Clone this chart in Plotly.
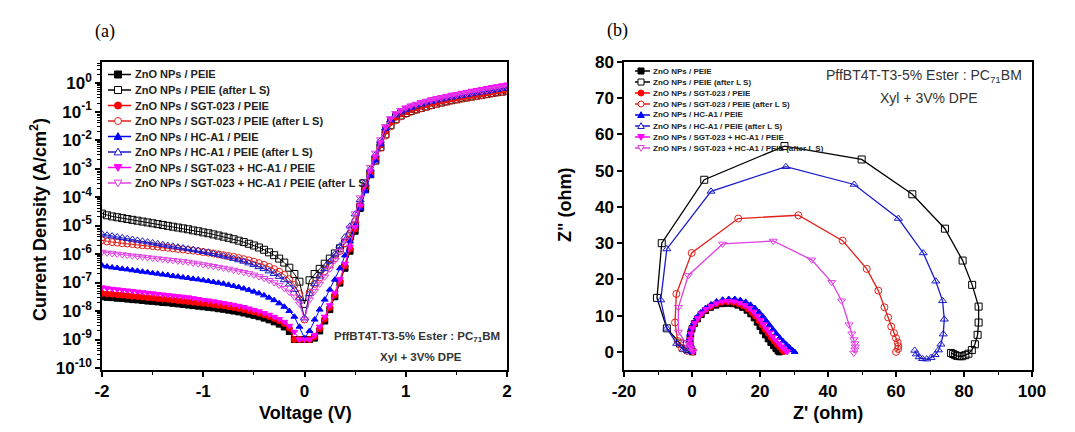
import plotly.graph_objects as go

# ---------------- Panel (a): J-V data (log10 of |J| in A/cm2) ----------------
V = [-2.00, -1.95, -1.90, -1.85, -1.80, -1.75, -1.70, -1.65, -1.60, -1.55,
     -1.50, -1.45, -1.40, -1.35, -1.30, -1.25, -1.20, -1.15, -1.10, -1.05,
     -1.00, -0.95, -0.90, -0.85, -0.80, -0.75, -0.70, -0.65, -0.60, -0.55,
     -0.50, -0.45, -0.40, -0.35, -0.30, -0.25, -0.20, -0.15, -0.10, -0.05,
     0.00, 0.05, 0.10, 0.15, 0.20, 0.25, 0.30, 0.35, 0.40, 0.45,
     0.50, 0.55, 0.60, 0.65, 0.70, 0.75, 0.80, 0.85, 0.90, 0.95,
     1.00, 1.05, 1.10, 1.15, 1.20, 1.25, 1.30, 1.35, 1.40, 1.45,
     1.50, 1.55, 1.60, 1.65, 1.70, 1.75, 1.80, 1.85, 1.90, 1.95, 2.00]

logJ_peie = [-7.50, -7.52, -7.53, -7.55, -7.56, -7.58, -7.60, -7.61, -7.63, -7.65,
             -7.66, -7.68, -7.70, -7.71, -7.73, -7.75, -7.77, -7.79, -7.81, -7.83,
             -7.85, -7.87, -7.89, -7.92, -7.94, -7.97, -8.00, -8.03, -8.07, -8.11,
             -8.15, -8.20, -8.25, -8.31, -8.38, -8.46, -8.56, -8.72, -9.00, -9.00,
             -9.00, -9.00, -8.95, -8.70, -8.35, -7.95, -7.50, -7.02, -6.50, -5.90,
             -5.20, -4.40, -3.70, -3.15, -2.65, -2.15, -1.65, -1.35, -1.17, -1.05,
             -0.97, -0.90, -0.84, -0.78, -0.73, -0.68, -0.64, -0.60, -0.56, -0.52,
             -0.49, -0.46, -0.43, -0.40, -0.37, -0.34, -0.31, -0.28, -0.25, -0.22, -0.19]
logJ_peie_ls = [-4.58, -4.64, -4.68, -4.71, -4.74, -4.77, -4.80, -4.83, -4.86, -4.89,
                -4.92, -4.95, -4.98, -5.01, -5.04, -5.07, -5.10, -5.13, -5.17, -5.20,
                -5.24, -5.27, -5.31, -5.35, -5.39, -5.43, -5.48, -5.53, -5.58, -5.64,
                -5.70, -5.77, -5.85, -5.94, -6.04, -6.16, -6.30, -6.48, -6.70, -6.97,
                -7.75, -6.92, -6.70, -6.52, -6.34, -6.16, -5.98, -5.80, -5.62, -5.38,
                -5.00, -4.35, -3.70, -3.20, -2.72, -2.25, -1.80, -1.48, -1.27, -1.14,
                -1.05, -0.98, -0.92, -0.87, -0.82, -0.77, -0.72, -0.68, -0.64, -0.60,
                -0.57, -0.53, -0.50, -0.47, -0.44, -0.41, -0.38, -0.35, -0.32, -0.30, -0.27]
logJ_sgt = [-7.38, -7.40, -7.41, -7.43, -7.44, -7.46, -7.48, -7.49, -7.51, -7.53,
            -7.54, -7.56, -7.58, -7.59, -7.61, -7.63, -7.65, -7.67, -7.69, -7.71,
            -7.73, -7.75, -7.77, -7.80, -7.82, -7.85, -7.88, -7.91, -7.95, -7.99,
            -8.03, -8.08, -8.13, -8.19, -8.26, -8.34, -8.44, -8.60, -9.00, -9.00,
            -9.00, -9.00, -8.90, -8.62, -8.28, -7.88, -7.44, -6.96, -6.42, -5.82,
            -5.12, -4.35, -3.68, -3.15, -2.66, -2.17, -1.68, -1.38, -1.20, -1.08,
            -1.00, -0.93, -0.87, -0.81, -0.76, -0.71, -0.67, -0.63, -0.59, -0.55,
            -0.52, -0.49, -0.46, -0.43, -0.40, -0.37, -0.34, -0.31, -0.28, -0.25, -0.22]
logJ_sgt_ls = [-5.52, -5.56, -5.58, -5.60, -5.62, -5.63, -5.65, -5.67, -5.69, -5.70,
               -5.72, -5.74, -5.76, -5.78, -5.80, -5.82, -5.84, -5.86, -5.88, -5.90,
               -5.93, -5.95, -5.98, -6.01, -6.04, -6.07, -6.10, -6.14, -6.18, -6.22,
               -6.27, -6.32, -6.38, -6.45, -6.53, -6.62, -6.73, -6.88, -7.08, -7.40,
               -8.30, -7.35, -7.05, -6.82, -6.60, -6.38, -6.15, -5.90, -5.62, -5.28,
               -4.85, -4.25, -3.65, -3.18, -2.72, -2.27, -1.84, -1.52, -1.31, -1.17,
               -1.08, -1.01, -0.95, -0.89, -0.84, -0.79, -0.74, -0.70, -0.66, -0.62,
               -0.58, -0.55, -0.52, -0.49, -0.46, -0.43, -0.40, -0.37, -0.34, -0.31, -0.28]
logJ_hc = [-6.40, -6.44, -6.47, -6.49, -6.52, -6.54, -6.57, -6.59, -6.62, -6.64,
           -6.67, -6.69, -6.72, -6.74, -6.77, -6.79, -6.82, -6.84, -6.87, -6.89,
           -6.92, -6.95, -6.98, -7.01, -7.04, -7.08, -7.12, -7.16, -7.21, -7.26,
           -7.32, -7.38, -7.45, -7.53, -7.62, -7.73, -7.85, -8.00, -8.20, -8.55,
           -8.95, -8.70, -8.30, -7.95, -7.60, -7.25, -6.90, -6.50, -6.05, -5.55,
           -5.00, -4.40, -3.80, -3.25, -2.72, -2.15, -1.60, -1.28, -1.10, -0.98,
           -0.90, -0.83, -0.77, -0.71, -0.66, -0.61, -0.57, -0.53, -0.49, -0.45,
           -0.42, -0.39, -0.36, -0.33, -0.30, -0.27, -0.24, -0.21, -0.18, -0.15, -0.12]
logJ_hc_ls = [-5.30, -5.34, -5.37, -5.40, -5.43, -5.46, -5.49, -5.52, -5.55, -5.58,
              -5.61, -5.64, -5.67, -5.70, -5.73, -5.76, -5.79, -5.82, -5.85, -5.88,
              -5.92, -5.95, -5.99, -6.03, -6.07, -6.11, -6.16, -6.21, -6.26, -6.32,
              -6.38, -6.45, -6.52, -6.60, -6.69, -6.79, -6.91, -7.06, -7.25, -7.55,
              -8.25, -7.40, -7.05, -6.78, -6.52, -6.26, -6.00, -5.72, -5.40, -5.02,
              -4.60, -4.10, -3.55, -3.02, -2.52, -2.02, -1.58, -1.30, -1.13, -1.02,
              -0.94, -0.87, -0.81, -0.75, -0.70, -0.65, -0.61, -0.57, -0.53, -0.50,
              -0.47, -0.44, -0.41, -0.38, -0.35, -0.32, -0.29, -0.26, -0.23, -0.20, -0.17]
logJ_sgt_hc = [-7.17, -7.20, -7.22, -7.24, -7.26, -7.28, -7.30, -7.32, -7.34, -7.36,
               -7.38, -7.40, -7.42, -7.44, -7.46, -7.48, -7.50, -7.52, -7.55, -7.58,
               -7.61, -7.63, -7.66, -7.69, -7.72, -7.75, -7.78, -7.82, -7.86, -7.91,
               -7.96, -8.01, -8.07, -8.13, -8.20, -8.28, -8.38, -8.52, -8.73, -9.00,
               -9.00, -9.00, -8.85, -8.55, -8.20, -7.80, -7.36, -6.88, -6.34, -5.74,
               -5.05, -4.30, -3.62, -3.08, -2.58, -2.08, -1.55, -1.25, -1.07, -0.95,
               -0.86, -0.79, -0.73, -0.67, -0.62, -0.57, -0.53, -0.49, -0.45, -0.41,
               -0.38, -0.34, -0.31, -0.27, -0.24, -0.21, -0.17, -0.14, -0.11, -0.08, -0.05]
logJ_sgt_hc_ls = [-5.93, -5.96, -5.98, -6.00, -6.02, -6.04, -6.06, -6.08, -6.10, -6.12,
                  -6.14, -6.16, -6.18, -6.20, -6.22, -6.24, -6.26, -6.28, -6.31, -6.34,
                  -6.37, -6.40, -6.43, -6.46, -6.49, -6.52, -6.56, -6.60, -6.64, -6.68,
                  -6.73, -6.79, -6.85, -6.92, -7.00, -7.09, -7.20, -7.33, -7.50, -7.75,
                  -8.30, -7.60, -7.30, -7.05, -6.80, -6.52, -6.22, -5.90, -5.52, -5.08,
                  -4.58, -4.02, -3.45, -2.95, -2.45, -1.98, -1.52, -1.24, -1.06, -0.95,
                  -0.87, -0.80, -0.74, -0.69, -0.64, -0.60, -0.56, -0.52, -0.48, -0.45,
                  -0.42, -0.39, -0.36, -0.33, -0.30, -0.27, -0.24, -0.21, -0.18, -0.15, -0.12]

# ---------------- Panel (b): Nyquist data (Z', Z'' in ohm) ----------------
zre_peie = [0.2, -0.3, -0.6, -0.6, -0.4, 0.0, 0.7, 1.6, 2.7, 4.0, 5.4, 7.0, 8.7, 10.4, 12.0,
            13.5, 14.9, 16.2, 17.3, 18.3, 19.2, 20.0, 20.8, 21.6, 22.4, 23.2, 24.0, 24.7, 25.3, 25.7]
zim_peie = [0.0, 1.0, 2.2, 3.5, 5.0, 6.4, 7.8, 9.1, 10.3, 11.4, 12.3, 12.9, 13.3, 13.4, 13.3,
            12.9, 12.3, 11.5, 10.5, 9.4, 8.2, 7.0, 5.8, 4.7, 3.6, 2.6, 1.7, 0.9, 0.3, 0.0]
zre_peie_ls = [76.2, 76.8, 77.4, 78.0, 78.7, 79.5, 80.4, 81.3, 82.3, 83.2, 84.0, 84.3, 84.3,
               82.4, 79.6, 74.4, 64.8, 49.9, 27.2, 3.6, -8.9, -10.3, -7.4, -3.5, -1.5]
zim_peie_ls = [-0.3, -0.6, -0.9, -1.1, -1.2, -1.2, -0.9, -0.5, 0.5, 2.1, 4.7, 8.1, 12.5,
               18.5, 25.2, 34.0, 43.5, 53.1, 56.8, 47.5, 30.0, 14.9, 6.5, 2.3, 0.8]
zre_sgt = [0.2, -0.3, -0.6, -0.6, -0.4, 0.0, 0.7, 1.6, 2.7, 4.0, 5.5, 7.1, 8.8, 10.5, 12.2,
           13.7, 15.1, 16.4, 17.6, 18.7, 19.7, 20.6, 21.5, 22.4, 23.3, 24.2, 25.0, 25.8, 26.5, 27.0]
zim_sgt = [0.0, 1.0, 2.2, 3.5, 5.0, 6.5, 7.9, 9.2, 10.5, 11.6, 12.5, 13.2, 13.7, 13.8, 13.7,
           13.3, 12.7, 11.9, 10.9, 9.8, 8.6, 7.4, 6.2, 5.1, 4.0, 3.0, 2.1, 1.3, 0.6, 0.1]
zre_sgt_ls = [60.0, 60.6, 60.7, 60.5, 60.0, 59.4, 58.6, 57.7, 56.6, 54.8, 51.4, 44.3, 31.3,
              13.6, -0.1, -4.6, -5.0, -4.2, -3.0, -1.5]
zim_sgt_ls = [0.0, 0.8, 1.6, 2.6, 3.8, 5.2, 7.0, 9.5, 12.3, 16.9, 22.9, 30.7, 37.7,
              36.8, 27.3, 16.0, 8.1, 3.0, 1.0, 0.3]
zre_hc = [0.0, -0.4, -0.7, -0.8, -0.6, -0.2, 0.5, 1.4, 2.6, 4.0, 5.6, 7.2, 9.0, 10.8, 12.6,
          14.2, 15.8, 17.2, 18.5, 19.7, 20.8, 21.8, 22.8, 23.8, 24.8, 25.8, 26.8, 27.8, 28.7, 29.5, 30.2]
zim_hc = [0.0, 1.0, 2.2, 3.5, 5.0, 6.5, 8.0, 9.5, 10.9, 12.1, 13.1, 13.9, 14.4, 14.6, 14.6,
          14.3, 13.8, 13.0, 12.1, 11.0, 9.8, 8.6, 7.4, 6.2, 5.0, 3.9, 2.9, 2.0, 1.2, 0.5, 0.0]
zre_hc_ls = [65.5, 66.0, 66.8, 67.8, 69.0, 70.3, 71.5, 72.5, 73.2, 73.9, 74.2, 73.7, 71.7,
             68.0, 60.7, 47.7, 27.6, 5.6, -7.4, -9.2, -7.4, -4.5, -2.6, -1.0]
zim_hc_ls = [0.4, -0.6, -1.4, -1.9, -2.0, -1.6, -0.8, 0.5, 2.1, 4.9, 9.0, 14.1, 19.5,
             27.3, 36.8, 46.2, 51.1, 44.3, 28.4, 14.3, 6.5, 2.3, 0.7, 0.2]
zre_sgt_hc = [0.3, -0.2, -0.5, -0.5, -0.3, 0.1, 0.8, 1.7, 2.8, 4.1, 5.6, 7.2, 8.9, 10.6, 12.3,
              13.9, 15.4, 16.8, 18.0, 19.1, 20.1, 21.0, 21.9, 22.8, 23.7, 24.6, 25.5, 26.3, 27.0, 27.6, 28.0]
zim_sgt_hc = [0.0, 1.0, 2.2, 3.5, 5.0, 6.5, 7.9, 9.3, 10.6, 11.8, 12.7, 13.4, 13.9, 14.0, 13.9,
              13.5, 12.9, 12.1, 11.1, 10.0, 8.8, 7.6, 6.4, 5.3, 4.2, 3.2, 2.3, 1.5, 0.8, 0.2, 0.0]
zre_sgt_hc_ls = [47.6, 47.9, 48.0, 47.9, 47.6, 47.0, 46.2, 44.0, 41.1, 35.2, 23.9, 9.0,
                 -1.1, -4.0, -4.0, -2.0, -0.8, 0.3]
zim_sgt_hc_ls = [-0.3, 0.6, 1.4, 2.3, 3.4, 5.0, 7.5, 14.1, 19.2, 25.4, 30.6, 29.8,
                 21.1, 12.3, 5.5, 2.6, 1.2, 0.2]

# tick labels
JV_XTICKS = [-2, -1, 0, 1, 2]
JV_XTICK_TEXT = ["-2", "-1", "0", "1", "2"]
JV_YEXP = list(range(-10, 1))
Z_XTICKS = [-20, 0, 20, 40, 60, 80, 100]
Z_XTICK_TEXT = ["-20", "0", "20", "40", "60", "80", "100"]
Z_YTICKS = [0, 10, 20, 30, 40, 50, 60, 70, 80]

NAMES = ["ZnO NPs / PEIE", "ZnO NPs / PEIE (after L S)",
         "ZnO NPs / SGT-023 / PEIE", "ZnO NPs / SGT-023 / PEIE (after L S)",
         "ZnO NPs / HC-A1 / PEIE", "ZnO NPs / HC-A1 / PEIE (after L S)",
         "ZnO NPs / SGT-023 + HC-A1 / PEIE", "ZnO NPs / SGT-023 + HC-A1 / PEIE (after L S)"]
COLORS = ["#000000", "#000000", "#ff0000", "#e0201a", "#0000ff", "#1a1acc", "#ff00ff", "#e040e0"]
SYMBOLS = ["square", "square", "circle", "circle", "triangle-up", "triangle-up",
           "triangle-down", "triangle-down"]
FILLED = [True, False, True, False, True, False, True, False]

JV = [logJ_peie, logJ_peie_ls, logJ_sgt, logJ_sgt_ls, logJ_hc, logJ_hc_ls, logJ_sgt_hc, logJ_sgt_hc_ls]
ZRE = [zre_peie, zre_peie_ls, zre_sgt, zre_sgt_ls, zre_hc, zre_hc_ls, zre_sgt_hc, zre_sgt_hc_ls]
ZIM = [zim_peie, zim_peie_ls, zim_sgt, zim_sgt_ls, zim_hc, zim_hc_ls, zim_sgt_hc, zim_sgt_hc_ls]

# The page keeps the browser's 8 px body margin, so the figure is 16 px smaller
# than the window and every layout position below is given in window pixels.
PAGE_MARGIN = 8
W, H = 1075 - 2 * PAGE_MARGIN, 432 - 2 * PAGE_MARGIN


def px(x):
    return (x - PAGE_MARGIN) / W


def py(y):
    return 1 - (y - PAGE_MARGIN) / H


fig = go.Figure()

for i in range(8):
    sym = SYMBOLS[i] if FILLED[i] else SYMBOLS[i] + "-open"
    fig.add_trace(go.Scatter(
        x=V, y=[10 ** v for v in JV[i]], mode="lines+markers", name=NAMES[i],
        line=dict(color=COLORS[i], width=1),
        marker=dict(symbol=sym, size=7 if not FILLED[i] else 6, color=COLORS[i],
                    line=dict(color=COLORS[i], width=1)),
        xaxis="x", yaxis="y", showlegend=False))

for i in range(8):
    sym = SYMBOLS[i] if FILLED[i] else SYMBOLS[i] + "-open"
    fig.add_trace(go.Scatter(
        x=ZRE[i], y=ZIM[i], mode="lines+markers", name=NAMES[i],
        line=dict(color=COLORS[i], width=1.3),
        marker=dict(symbol=sym, size=7 if not FILLED[i] else 6, color=COLORS[i],
                    line=dict(color=COLORS[i], width=1)),
        xaxis="x2", yaxis="y2", showlegend=False))

TICKFONT = dict(family="Liberation Sans, Arial", size=17, color="black", weight="bold")
TITLEFONT = dict(family="Liberation Sans, Arial", size=18, color="black", weight="bold")

ytick_vals = [10 ** e for e in JV_YEXP]
ytick_text = ["10<sup>%d</sup>" % e for e in JV_YEXP]
yminor_vals = [m * 10 ** e for e in JV_YEXP for m in range(2, 10)]

axis_common = dict(showline=True, linecolor="black", linewidth=1.5, mirror=True,
                   showgrid=False, zeroline=False, ticks="outside", ticklen=5,
                   tickwidth=1.5, tickcolor="black", tickfont=TICKFONT, automargin=False)

fig.update_layout(
    width=W, height=H, autosize=False,
    margin=dict(l=0, r=0, t=0, b=0, pad=0),
    paper_bgcolor="white", plot_bgcolor="white",
    xaxis=dict(domain=[px(102), px(507)], range=[-2, 2], tickmode="array",
               tickvals=JV_XTICKS, ticktext=JV_XTICK_TEXT,
               minor=dict(ticks="outside", dtick=0.5, ticklen=3, tickwidth=1.2, tickcolor="black"),
               anchor="y", **axis_common),
    yaxis=dict(domain=[py(370), py(62)], type="log", range=[-10.07, 0.74],
               tickmode="array", tickvals=ytick_vals, ticktext=ytick_text,
               minor=dict(ticks="outside", tickmode="array", tickvals=yminor_vals,
                          ticklen=3, tickwidth=1, tickcolor="black"),
               anchor="x", **axis_common),
    xaxis2=dict(domain=[px(624), px(1032)], range=[-20, 100], tickmode="array",
                tickvals=Z_XTICKS, ticktext=Z_XTICK_TEXT,
                minor=dict(ticks="outside", dtick=10, ticklen=3, tickwidth=1.2, tickcolor="black"),
                anchor="y2", **axis_common),
    yaxis2=dict(domain=[py(370), py(62)], range=[-5, 80], tickmode="array", tickvals=Z_YTICKS,
                anchor="x2", **axis_common),
)

shapes = []
annotations = []


def marker_shapes(cx, cy, s, sym, color, filled, lw):
    fill = color if filled else "white"
    if sym in ("square", "circle"):
        return [dict(type="rect" if sym == "square" else "circle", xref="paper", yref="paper",
                     x0=px(cx - s / 2), x1=px(cx + s / 2), y0=py(cy + s / 2), y1=py(cy - s / 2),
                     line=dict(color=color, width=lw), fillcolor=fill, layer="above")]
    h = s * 0.55
    if sym == "triangle-up":
        pts = [(cx, cy - h), (cx - h, cy + h * 0.75), (cx + h, cy + h * 0.75)]
    else:
        pts = [(cx, cy + h), (cx - h, cy - h * 0.75), (cx + h, cy - h * 0.75)]
    path = "M %f,%f L %f,%f L %f,%f Z" % tuple(v for p in pts for v in (px(p[0]), py(p[1])))
    return [dict(type="path", xref="paper", yref="paper", path=path,
                 line=dict(color=color, width=lw), fillcolor=fill, layer="above")]


def add_legend(x0, x1, xm, xt, y0, dy, s, fsize, lw_line):
    for i in range(8):
        cy = y0 + i * dy
        shapes.append(dict(type="line", xref="paper", yref="paper", x0=px(x0), x1=px(x1),
                           y0=py(cy), y1=py(cy), line=dict(color=COLORS[i], width=lw_line),
                           layer="above"))
        shapes.extend(marker_shapes(xm, cy, s, SYMBOLS[i], COLORS[i], FILLED[i], 1))
        annotations.append(dict(text=NAMES[i], x=px(xt), y=py(cy), xref="paper", yref="paper",
                                xanchor="left", yanchor="middle", showarrow=False,
                                font=dict(family="Liberation Sans, Arial", size=fsize,
                                          color="#222222", weight="bold")))


add_legend(108, 131, 118, 133, 74.5, 15.5, 7, 11, 1.5)
add_legend(635, 650, 641, 651, 71, 11, 6, 8, 1.5)


def text_at(text, x, y, font, angle=0):
    return dict(text=text, x=px(x), y=py(y), xref="paper", yref="paper", showarrow=False,
                xanchor="center", yanchor="middle", textangle=angle, font=font)


LABEL_BOLD = dict(family="Liberation Sans, Arial", size=11.5, color="#333333", weight="bold")
LABEL_REG = dict(family="Liberation Sans, Arial", size=14, color="#333333")
PANEL_FONT = dict(family="Liberation Serif, Times New Roman", size=18, color="black")

annotations += [
    # axis titles
    text_at("Voltage (V)", 305, 413, TITLEFONT),
    text_at("Current Density (A/cm<sup>2</sup>)", 38, 220, TITLEFONT, -90),
    text_at("Z' (ohm)", 828, 413, TITLEFONT),
    text_at('Z" (ohm)', 565, 205, TITLEFONT, -90),
    # in-plot texts
    text_at("PffBT4T-T3-5% Ester : PC<sub>71</sub>BM", 417, 337, LABEL_BOLD),
    text_at("Xyl + 3V% DPE", 421, 357, LABEL_BOLD),
    text_at("PffBT4T-T3-5% Ester : PC<sub>71</sub>BM", 924, 76, LABEL_REG),
    text_at("Xyl + 3V% DPE", 929, 98, LABEL_REG),
    # panel labels
    text_at("(a)", 105, 31, PANEL_FONT),
    text_at("(b)", 617, 30, PANEL_FONT),
]

fig.update_layout(shapes=shapes, annotations=annotations)

fig.write_html("out.html", config={"displayModeBar": False})
